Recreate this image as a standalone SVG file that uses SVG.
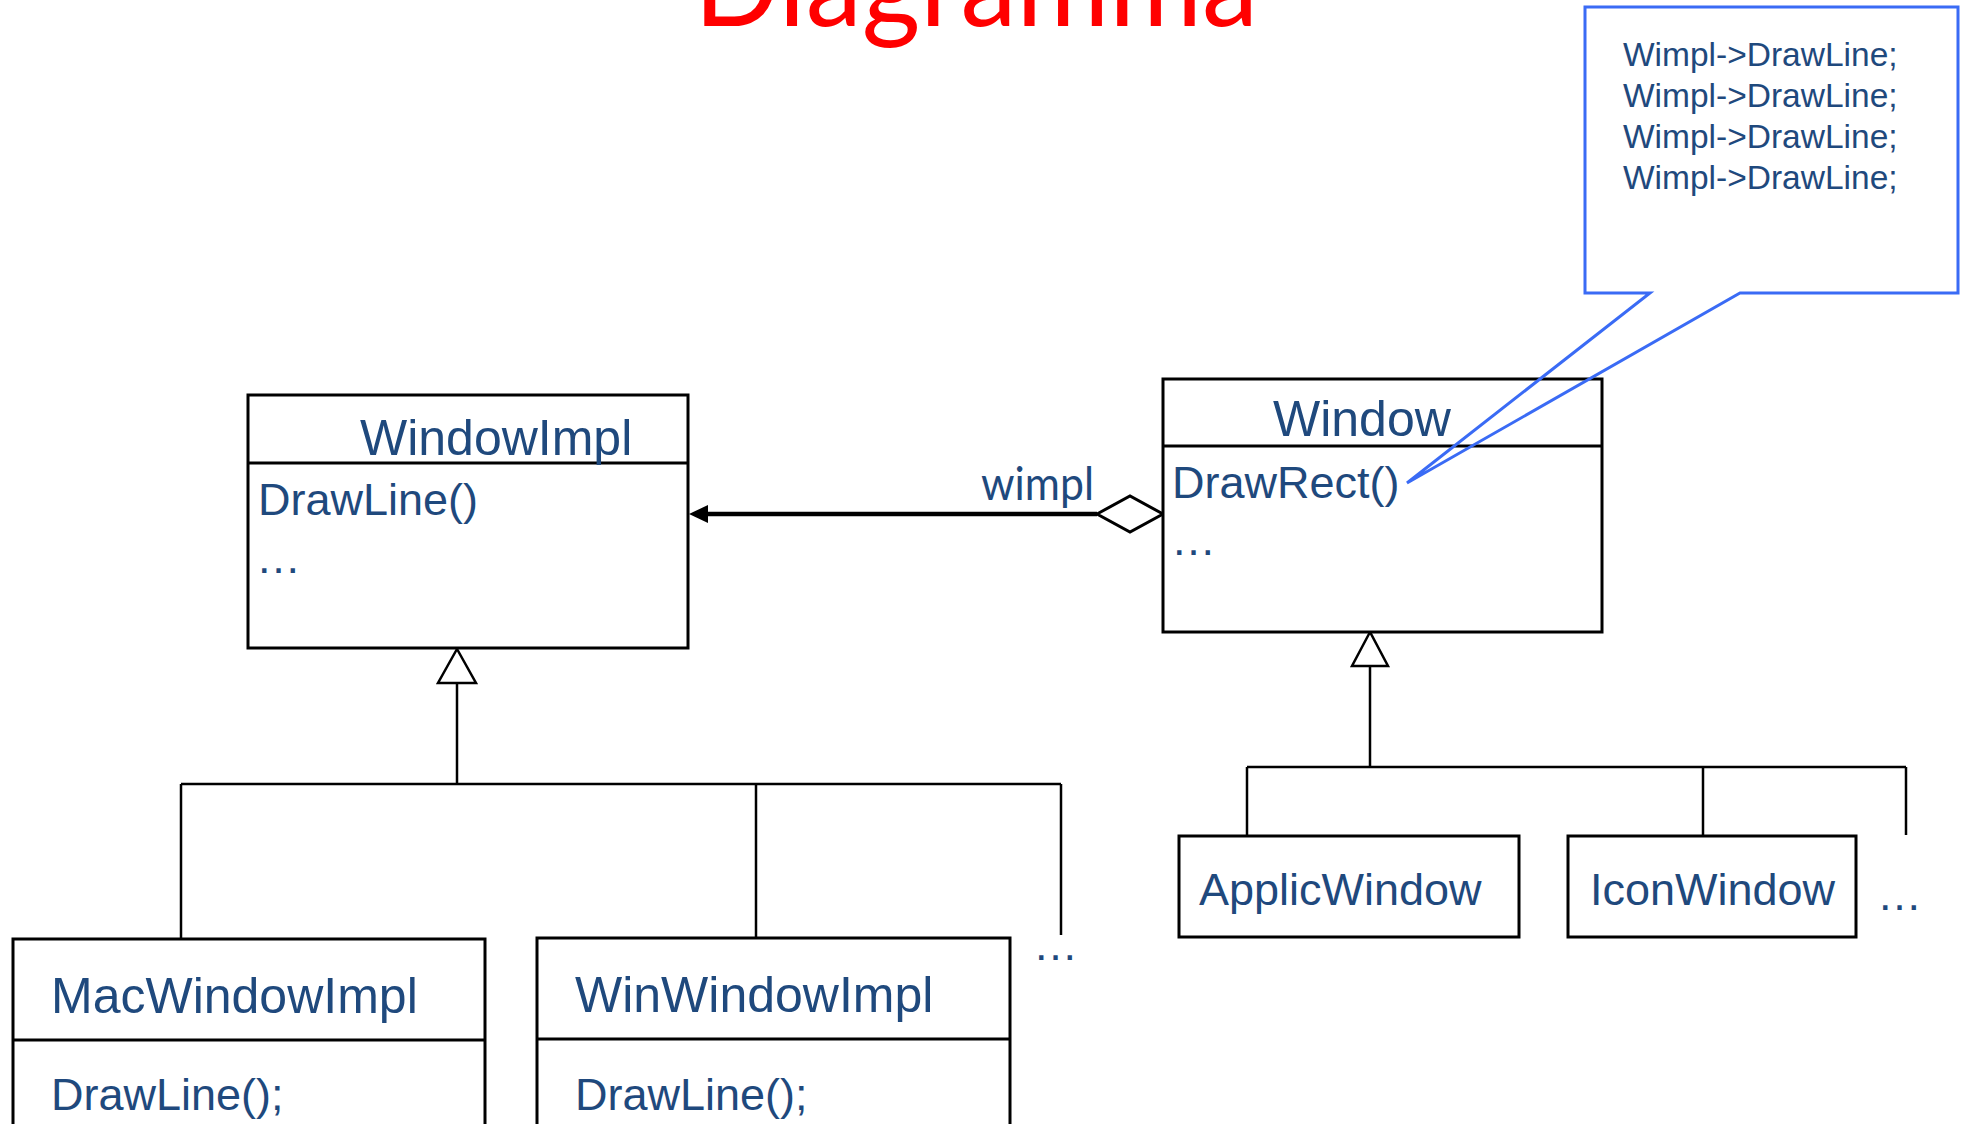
<svg xmlns="http://www.w3.org/2000/svg" width="1964" height="1124" viewBox="0 0 1964 1124">
<style>
.box{fill:#fff;stroke:#000;stroke-width:3}
.div{stroke:#000;stroke-width:3}
.ln{stroke:#000;stroke-width:2.5;fill:none}
.tri{fill:#fff;stroke:#000;stroke-width:2.5}
.t{font-family:"Liberation Sans",Arial,sans-serif;fill:#1F497D}
.cls{font-size:50px}
.m{font-size:45px}
.co{font-size:33.5px}
</style>
<rect width="1964" height="1124" fill="#fff"/>
<text x="694" y="26" font-family="Lato,'Open Sans',sans-serif" font-size="120" fill="#FF0000" textLength="564" lengthAdjust="spacingAndGlyphs">Diagramma</text>

<g id="connectors">
  <line class="ln" x1="457" y1="683" x2="457" y2="784"/>
  <line class="ln" x1="181" y1="784" x2="1061" y2="784"/>
  <line class="ln" x1="181" y1="784" x2="181" y2="938"/>
  <line class="ln" x1="756" y1="784" x2="756" y2="937"/>
  <line class="ln" x1="1061" y1="784" x2="1061" y2="935"/>
  <polygon class="tri" points="457,649 438,683 476,683"/>
  <line class="ln" x1="1370" y1="666" x2="1370" y2="767"/>
  <line class="ln" x1="1247" y1="767" x2="1906" y2="767"/>
  <line class="ln" x1="1247" y1="767" x2="1247" y2="836"/>
  <line class="ln" x1="1703" y1="767" x2="1703" y2="836"/>
  <line class="ln" x1="1906" y1="767" x2="1906" y2="835"/>
  <polygon class="tri" points="1370,632 1352,666 1388,666"/>
  <line x1="700" y1="514" x2="1097" y2="514" stroke="#000" stroke-width="4.5"/>
  <polygon points="689,514 708,505 708,523" fill="#000"/>
  <polygon points="1097,514 1130,496 1163,514 1130,532" fill="#fff" stroke="#000" stroke-width="3"/>
  <text x="981" y="500" font-family="Lato,'Open Sans',sans-serif" font-size="46" fill="#1F497D" textLength="113" lengthAdjust="spacingAndGlyphs">wimpl</text>
</g>

<g id="WindowImpl">
  <rect class="box" x="248" y="395" width="440" height="253"/>
  <line class="div" x1="248" y1="463" x2="688" y2="463"/>
  <text class="t cls" x="360" y="455">WindowImpl</text>
  <text class="t m" x="258" y="515">DrawLine()</text>
  <text class="t m" x="256" y="573">…</text>
</g>

<g id="Window">
  <rect class="box" x="1163" y="379" width="439" height="253"/>
  <line class="div" x1="1163" y1="446" x2="1602" y2="446"/>
  <text class="t cls" x="1273" y="436">Window</text>
  <text class="t m" x="1172" y="498">DrawRect()</text>
  <text class="t m" x="1171" y="555">…</text>
</g>

<g id="MacWindowImpl">
  <rect class="box" x="13" y="939" width="472" height="200"/>
  <line class="div" x1="13" y1="1040" x2="485" y2="1040"/>
  <text class="t cls" x="51" y="1013">MacWindowImpl</text>
  <text class="t m" x="51" y="1110">DrawLine();</text>
</g>

<g id="WinWindowImpl">
  <rect class="box" x="537" y="938" width="473" height="200"/>
  <line class="div" x1="537" y1="1039" x2="1010" y2="1039"/>
  <text class="t cls" x="575" y="1012">WinWindowImpl</text>
  <text class="t m" x="575" y="1110">DrawLine();</text>
</g>

<g id="more-impl">
  <text class="t m" x="1033" y="960">…</text>
</g>

<g id="ApplicWindow">
  <rect class="box" x="1179" y="836" width="340" height="101"/>
  <text class="t m" x="1199" y="905">ApplicWindow</text>
</g>

<g id="IconWindow">
  <rect class="box" x="1568" y="836" width="288" height="101"/>
  <text class="t m" x="1590" y="905">IconWindow</text>
</g>

<g id="more-window">
  <text class="t m" x="1877" y="910">…</text>
</g>

<g id="callout">
  <path d="M1650,293 L1585,293 L1585,7 L1958,7 L1958,293 L1740,293 L1407,483 Z" fill="none" stroke="#3A6BF5" stroke-width="3" stroke-linejoin="miter"/>
  <text class="t co" x="1623" y="66">Wimpl-&gt;DrawLine;</text>
  <text class="t co" x="1623" y="107">Wimpl-&gt;DrawLine;</text>
  <text class="t co" x="1623" y="148">Wimpl-&gt;DrawLine;</text>
  <text class="t co" x="1623" y="189">Wimpl-&gt;DrawLine;</text>
</g>
</svg>
